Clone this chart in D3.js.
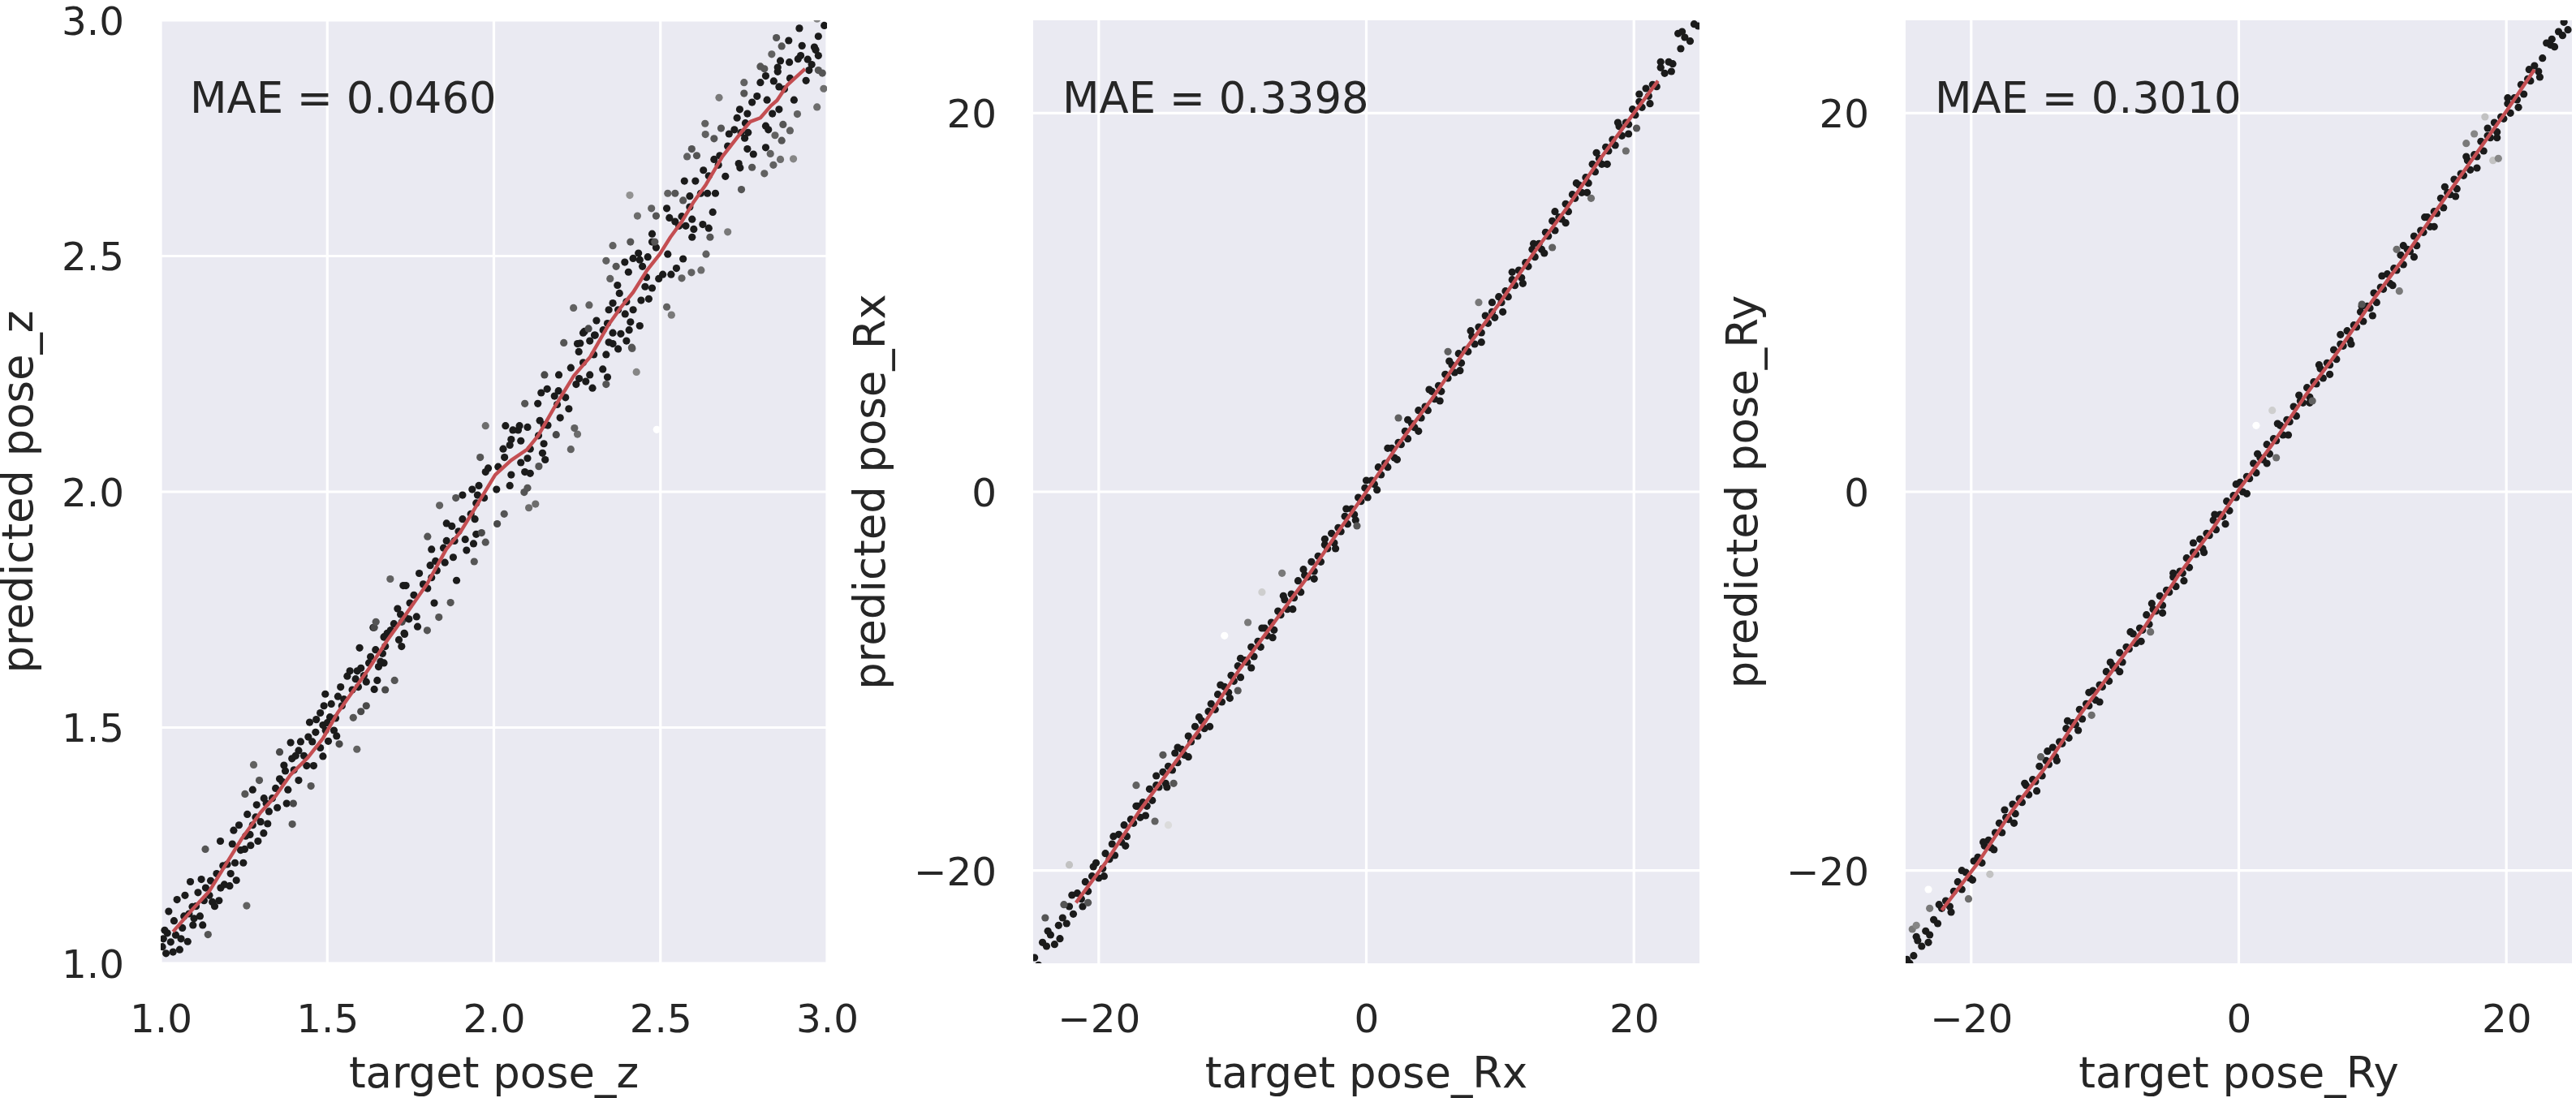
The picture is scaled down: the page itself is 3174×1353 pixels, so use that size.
<!DOCTYPE html>
<html>
<head>
<meta charset="utf-8">
<script src="https://cdn.jsdelivr.net/npm/d3@7"></script>
<style>
body { margin: 0; background: #ffffff; }
svg { display: block; font-family: 'DejaVu Sans', sans-serif; }
</style>
</head>
<body>
<svg id="board" width="3174" height="1353"></svg>
<script>

// [target, predicted] for the dark points
var poseZPoints = [
[1.016,1.021],[1.037,1.024],[1.008,1.052],[1.057,1.029],[1.02,1.064],[1.024,1.11],[1.049,1.135],[1.073,1.144],
[1.089,1.173],[1.097,1.081],[1.081,1.046],[1.061,1.052],[1.126,1.081],[1.106,1.121],[1.13,1.133],[1.146,1.144],
[1.122,1.178],[1.175,1.133],[1.162,1.121],[1.191,1.167],[1.187,1.207],[1.207,1.164],[1.227,1.176],[1.179,1.259],
[1.215,1.253],[1.219,1.282],[1.235,1.293],[1.252,1.242],[1.248,1.213],[1.223,1.213],[1.26,1.316],[1.276,1.293],
[1.292,1.259],[1.268,1.273],[1.288,1.336],[1.276,1.368],[1.317,1.339],[1.325,1.322],[1.321,1.296],[1.309,1.276],
[1.345,1.371],[1.357,1.391],[1.374,1.408],[1.382,1.368],[1.378,1.339],[1.39,1.468],[1.394,1.434],[1.414,1.451],
[1.414,1.388],[1.438,1.419],[1.459,1.419],[1.443,1.48],[1.447,1.511],[1.467,1.517],[1.479,1.457],[1.487,1.439],
[1.495,1.494],[1.503,1.471],[1.487,1.505],[1.479,1.531],[1.49,1.546],[1.494,1.571],[1.508,1.522],[1.528,1.482],
[1.52,1.494],[1.532,1.566],[1.544,1.546],[1.54,1.586],[1.56,1.609],[1.568,1.62],[1.585,1.603],[1.593,1.586],
[1.617,1.597],[1.601,1.626],[1.625,1.637],[1.597,1.669],[1.641,1.581],[1.65,1.6],[1.654,1.629],[1.67,1.637],
[1.666,1.657],[1.674,1.672],[1.67,1.692],[1.69,1.706],[1.715,1.686],[1.723,1.672],[1.731,1.7],[1.771,1.714],
[1.005,1.035],[1.012,1.07],[1.03,1.045],[1.045,1.06],[1.04,1.09],[1.065,1.075],[1.07,1.1],[1.085,1.105],
[1.095,1.12],[1.1,1.095],[1.112,1.15],[1.118,1.1],[1.135,1.16],[1.15,1.175],[1.155,1.13],[1.168,1.19],
[1.18,1.16],[1.2,1.21],[1.21,1.19],[1.24,1.24],[1.255,1.27],[1.27,1.25],[1.285,1.31],[1.3,1.3],
[1.31,1.35],[1.335,1.35],[1.35,1.33],[1.365,1.385],[1.37,1.42],[1.4,1.41],[1.405,1.44],[1.42,1.47],
[1.43,1.44],[1.455,1.47],[1.465,1.49],[1.5,1.51],[1.512,1.55],[1.525,1.52],[1.55,1.56],[1.575,1.58],
[1.59,1.62],[1.61,1.61],[1.63,1.65],[1.645,1.665],[1.66,1.64],[1.68,1.7],[1.7,1.72],[1.745,1.73],[1.72,1.74],
[1.638,1.712],[1.671,1.692],[1.691,1.706],[1.711,1.752],[1.732,1.698],[1.736,1.732],[1.748,1.764],[1.768,1.735],
[1.821,1.764],[1.76,1.781],[1.736,1.801],[1.728,1.801],[1.776,1.827],[1.788,1.804],[1.801,1.795],[1.813,1.818],
[1.809,1.844],[1.825,1.853],[1.829,1.833],[1.813,1.878],[1.849,1.881],[1.853,1.85],[1.858,1.896],[1.878,1.861],
[1.888,1.812],[1.882,1.896],[1.894,1.916],[1.914,1.899],[1.918,1.876],[1.939,1.89],[1.947,1.91],[1.858,1.933],
[1.874,1.927],[1.906,1.942],[1.931,1.953],[1.943,1.942],[1.947,1.976],[1.951,1.993],[1.935,2.005],[1.906,1.993],
[1.955,2.013],[1.971,1.987],[2.008,2.005],[2.052,2.036],[2.048,2.013],[2.013,2.053],[1.983,2.05],[1.975,2.042],
[2.028,2.091],[2.032,2.073],[2.048,2.099],[2.052,2.111],[2.073,2.131],[2.081,2.108],[2.081,2.062],[2.101,2.071],
[2.109,2.039],[2.093,2.042],[2.109,2.091],[2.101,2.137],[2.077,2.14],[2.035,2.14],[2.057,2.131],[2.134,2.119],
[2.15,2.102],[2.146,2.082],[2.154,2.068],[2.132,2.187],[2.138,2.151],[2.15,2.142],[2.162,2.141],[2.199,2.157],
[2.19,2.185],[2.182,2.203],[2.194,2.214],[2.215,2.2],[2.225,2.176],[2.142,2.21],[2.16,2.218],[2.195,2.248],
[2.231,2.263],[2.247,2.228],[2.256,2.24],[2.276,2.234],[2.296,2.22],[2.288,2.248],[2.268,2.274],[2.255,2.297],
[2.251,2.314],[2.3,2.291],[2.327,2.26],[2.341,2.243],[2.337,2.291],[2.288,2.32],[2.302,2.332],[2.268,2.337],
[2.357,2.314],[2.373,2.303],[2.381,2.335],[2.398,2.32],[2.406,2.343],[2.438,2.352],
[2.259,2.315],[2.272,2.34],[2.304,2.332],[2.308,2.363],[2.328,2.343],[2.345,2.317],[2.357,2.337],[2.341,2.357],
[2.345,2.386],[2.373,2.386],[2.394,2.377],[2.357,2.4],[2.377,2.421],[2.398,2.403],[2.418,2.386],[2.41,2.36],
[2.371,2.438],[2.404,2.466],[2.393,2.487],[2.418,2.495],[2.438,2.492],[2.446,2.478],[2.434,2.506],[2.458,2.455],
[2.454,2.435],[2.442,2.406],[2.465,2.409],[2.475,2.432],[2.462,2.498],[2.475,2.53],[2.487,2.518],[2.475,2.547],
[2.495,2.452],[2.507,2.461],[2.532,2.461],[2.548,2.474],[2.568,2.494],[2.522,2.504],[2.519,2.601],[2.527,2.581],
[2.544,2.573],[2.556,2.564],[2.564,2.584],[2.576,2.564],[2.595,2.578],[2.6,2.557],[2.595,2.54],[2.645,2.559],
[2.627,2.567],[2.657,2.593],[2.588,2.604],[2.572,2.659],[2.588,2.627],[2.605,2.659],[2.621,2.633],[2.641,2.633],
[2.665,2.633],[2.629,2.682],[2.645,2.67],[2.661,2.705],[2.678,2.713],[2.674,2.693],[2.695,2.669],[2.739,2.687],
[2.735,2.696],[2.779,2.716],[2.816,2.73],[2.761,2.727],[2.702,2.733],[2.706,2.759],[2.722,2.768],[2.73,2.793],
[2.742,2.762],[2.755,2.782],[2.763,2.762],[2.753,2.75],[2.738,2.811],[2.761,2.802],[2.775,2.826],[2.79,2.839],
[2.816,2.776],[2.824,2.768],[2.836,2.802],[2.856,2.811],[2.82,2.831],[2.8,2.868],[2.816,2.882],[2.84,2.871],
[2.852,2.891],[2.856,2.859],[2.872,2.854],[2.901,2.831],[2.889,2.877],[2.937,2.872],[2.946,2.894],[2.887,2.911],
[2.86,2.914],[2.852,2.9],[2.913,2.918],[2.921,2.925],[2.942,2.917],[2.954,2.906],[2.974,2.925],[2.962,2.943],
[2.925,2.946],[2.966,2.937],[2.885,2.957],[2.917,2.983],[2.974,2.966],[2.992,2.989]
];

// [target, predicted, shade] for the paler points (0 = black, 1 = white)
var poseZFaint = [
[1.142,1.061,.3],[1.134,1.242,.3],[1.258,1.122,.35],[1.253,1.359,.3],[1.279,1.421,.35],[1.296,1.388,.3],
[1.398,1.339,.25],[1.395,1.295,.3],[1.357,1.448,.25],[1.451,1.376,.3],[1.536,1.465,.25],[1.578,1.521,.3],
[1.601,1.534,.25],[1.617,1.546,.25],[1.589,1.454,.35],[1.674,1.58,.25],[1.702,1.6,.3],[1.641,1.712,.25],
[1.8,1.706,.3],[1.646,1.724,.3],[1.724,1.724,.25],[1.835,1.734,.3],[1.87,1.765,.3],[1.689,1.815,.35],
[1.801,1.905,.3],[1.837,1.971,.35],[1.941,1.852,.3],[1.963,1.913,.25],[1.975,1.893,.3],[1.886,1.987,.3],
[2.01,1.932,.25],[2.031,1.953,.3],[1.959,2.073,.3],[1.975,2.14,.4],[2.091,1.999,.3],[2.105,1.966,.4],
[2.125,1.974,.4],[2.101,2.008,.3],[2.135,2.054,.3],[2.093,2.187,.3],[2.187,2.121,.25],[2.231,2.09,.35],
[2.251,2.122,.4],[2.242,2.135,.35],[2.152,2.248,.25],[2.21,2.316,.3],[2.337,2.228,.3],[2.415,2.304,.35],
[2.428,2.254,.5],[2.489,2.132,1],
[2.284,2.346,.25],[2.239,2.39,.35],[2.286,2.396,.35],[2.414,2.306,.3],[2.349,2.452,.35],[2.367,2.478,.3],
[2.337,2.49,.35],[2.357,2.522,.35],[2.41,2.53,.3],[2.431,2.585,.4],[2.408,2.629,.55],[2.483,2.53,.3],
[2.473,2.601,.35],[2.487,2.585,.3],[2.519,2.392,.35],[2.533,2.375,.45],[2.564,2.453,.35],[2.593,2.465,.35],
[2.622,2.47,.4],[2.522,2.633,.35],[2.544,2.633,.3],[2.637,2.504,.35],[2.649,2.54,.3],[2.702,2.551,.45],
[2.568,2.618,.3],[2.743,2.641,.3],[2.775,2.688,.3],[2.812,2.675,.35],[2.839,2.693,.35],[2.86,2.705,.4],
[2.899,2.706,.5],[2.83,2.717,.35],[2.58,2.711,.35],[2.594,2.727,.3],[2.609,2.713,.3],[2.682,2.771,.3],
[2.661,2.749,.3],[2.635,2.758,.35],[2.634,2.781,.35],[2.676,2.836,.45],[2.751,2.845,.3],[2.751,2.868,.35],
[2.844,2.756,.35],[2.864,2.745,.3],[2.868,2.779,.3],[2.889,2.766,.35],[2.8,2.902,.3],[2.812,2.897,.3],
[2.834,2.928,.35],[2.911,2.801,.35],[2.97,2.816,.4],[2.99,2.855,.4],[2.974,2.894,.3],[2.986,2.888,.3],
[2.848,2.963,.3],[2.864,2.945,.3],[2.97,3.003,.5]
];

var poseZTrend = [
[1.037,1.067],[1.09,1.11],[1.146,1.153],[1.2,1.215],[1.244,1.265],[1.3,1.32],[1.345,1.355],[1.39,1.4],
[1.44,1.435],[1.487,1.477],[1.53,1.53],[1.58,1.58],[1.626,1.626],[1.68,1.685],[1.736,1.74],[1.8,1.805],
[1.857,1.878],[1.9,1.915],[1.938,1.959],[2.004,2.036],[2.052,2.067],[2.1,2.09],[2.133,2.119],[2.18,2.177],
[2.24,2.246],[2.289,2.286],[2.345,2.355],[2.38,2.39],[2.418,2.423],[2.46,2.47],[2.498,2.504],[2.53,2.54],
[2.564,2.573],[2.6,2.615],[2.637,2.652],[2.686,2.711],[2.742,2.762],[2.77,2.785],[2.8,2.793],[2.832,2.819],
[2.85,2.83],[2.88,2.862],[2.934,2.897]
];

var poseRxPoints = [
[-24.8,-24.6],[-24.5,-25.0],[-24.2,-23.8],[-23.9,-24.0],[-23.6,-23.4],[-23.3,-23.9],[-23.0,-22.9],[-22.7,-22.5],
[-22.4,-22.8],[-22.2,-21.9],[-21.9,-22.3],[-21.6,-21.2],[-21.3,-21.5],[-21.0,-20.6],[-20.8,-21.1],[-20.5,-20.3],
[-20.2,-19.6],[-20.0,-20.4],[-19.7,-19.9],[-19.5,-19.1],[-19.2,-19.4],[-19.0,-18.6],[-18.8,-19.2],[-18.5,-18.1],
[-18.3,-18.5],[-18.1,-17.6],[-17.9,-18.2],[-17.6,-17.3],[-17.4,-17.5],[-17.1,-16.6],[-16.9,-17.2],[-16.7,-16.4],
[-16.4,-16.6],[-16.2,-15.7],[-16.0,-16.3],[-15.7,-15.5],[-15.5,-15.6],[-15.2,-14.8],[-15.0,-15.4],[-14.8,-14.5],
[-14.5,-14.7],[-14.3,-13.8],[-14.1,-14.3],[-13.8,-13.6],[-13.6,-13.9],[-13.3,-12.9],[-13.1,-13.2],[-12.8,-12.4],
[-12.6,-12.9],[-12.3,-12.1],[-12.1,-12.5],[-11.8,-11.6],[-11.6,-11.2],[-11.3,-11.5],[-11.1,-10.7],[-10.8,-11.1],
[-10.6,-10.3],[-10.3,-10.6],[-10.1,-9.7],[-9.9,-10.0],[-9.6,-9.2],[-9.4,-9.8],[-9.1,-8.9],[-8.9,-9.0],
[-8.6,-8.2],[-8.4,-8.7],[-8.1,-7.9],[-7.9,-8.2],[-7.6,-7.2],[-7.4,-7.6],[-7.1,-6.9],[-6.9,-7.3],
[-6.6,-6.3],[-6.4,-6.5],[-6.1,-5.7],[-5.9,-6.2],[-5.6,-5.4],[-5.4,-5.6],[-5.1,-4.7],[-4.9,-5.3],
[-4.6,-4.4],[-4.4,-4.5],[-4.1,-3.7],[-3.9,-4.2],[-3.6,-3.4],[-3.4,-3.7],[-3.1,-2.8],[-2.9,-3.0],
[-2.6,-2.2],[-2.4,-2.7],[-2.1,-1.9],[-1.9,-2.1],[-1.6,-1.3],[-1.4,-1.7],[-1.1,-0.9],[-0.9,-1.2],
[-0.6,-0.3],[-0.4,-0.5],[-0.1,0.2],[0.1,-0.3],[0.4,0.6],[0.6,0.4],[0.9,1.3],[1.1,0.9],
[1.4,1.5],[1.6,1.3],[1.9,2.3],[2.1,1.8],[2.4,2.6],[2.6,2.5],[2.9,3.2],[3.1,2.8],
[3.4,3.6],[3.6,3.4],[3.9,4.3],[4.1,3.9],[4.4,4.5],[4.6,4.3],[4.9,5.3],[5.1,4.9],
[5.4,5.6],[5.6,5.3],[5.9,6.2],[6.1,6.0],[6.4,6.7],[6.6,6.3],[6.9,7.3],[7.1,6.8],
[7.4,7.5],[7.6,7.4],[7.9,8.2],[8.1,7.8],[8.4,8.7],[8.6,8.4],[8.9,9.3],[9.1,8.9],
[9.4,9.5],[9.6,9.2],[9.9,10.3],[10.1,10.0],[10.4,10.6],[10.6,10.3],[10.9,11.2],[11.1,10.9],
[11.4,11.7],[11.6,11.3],[11.9,12.1],[12.1,11.9],[12.4,12.8],[12.6,12.4],[12.9,13.1],[13.1,12.8],
[13.4,13.7],[13.6,13.5],[13.9,14.3],[14.1,13.8],[14.4,14.5],[14.6,14.4],[14.9,15.2],[15.1,14.8],
[15.4,15.7],[15.6,15.5],[15.9,16.2],[16.1,15.8],[16.4,16.6],[16.6,16.3],[16.9,17.3],[17.1,16.9],
[17.4,17.6],[17.6,17.3],[17.9,18.2],[18.1,18.0],[18.4,18.6],[18.6,18.3],[18.9,19.3],[19.1,18.8],
[19.4,19.5],[19.6,19.4],[19.9,20.2],[20.1,19.9],[20.4,20.6],[20.6,20.3],[20.9,21.3],[21.1,20.9],
[21.4,21.5],[21.7,21.4],[22.0,22.4],[22.3,22.1],[22.6,22.7],[22.9,22.6],[23.3,24.2],[23.5,23.4],
[23.8,24.0],[24.2,23.8],[24.5,24.7],[24.8,24.6]
];

// the outer edge of the Rx band
var poseRxWide = [
[-23.8,-23.2],[-22.9,-23.6],[-22.0,-21.3],[-21.2,-21.9],[-20.4,-19.8],[-19.6,-20.3],[-18.9,-18.2],[-18.0,-18.7],
[-17.2,-16.6],[-16.5,-17.1],[-15.7,-15.0],[-14.9,-15.6],[-14.1,-13.5],[-13.3,-14.0],[-12.5,-11.9],[-11.7,-12.4],
[-10.9,-10.2],[-10.2,-10.9],[-9.4,-8.8],[-8.6,-9.3],[-7.8,-7.2],[-7.0,-7.7],[-6.2,-5.5],[-5.5,-6.2],
[-4.7,-4.1],[-3.9,-4.6],[-3.1,-2.5],[-2.3,-3.0],[-1.5,-0.9],[-0.8,-1.5],[0.0,0.6],[0.8,0.1],
[1.6,2.3],[2.3,1.7],[3.1,3.8],[3.9,3.2],[4.7,5.4],[5.5,4.8],[6.2,6.9],[7.0,6.4],
[7.8,8.5],[8.6,7.9],[9.4,10.0],[10.2,9.5],[10.9,11.6],[11.7,11.0],[12.5,13.1],[13.3,12.6],
[14.1,14.8],[14.9,14.2],[15.7,16.3],[16.5,15.8],[17.2,17.9],[18.0,17.3],[18.8,19.5],[19.6,18.9],
[20.4,21.0],[21.2,20.5],[22.0,22.7],[22.8,22.2],[23.6,24.3]
];

var poseRxFaint = [
[-22.2,-19.7,.75],[-24.0,-22.5,.3],[-22.6,-21.8,.3],[-20.8,-21.7,.3],[-17.2,-15.5,.35],[-15.8,-17.4,.35],
[-14.8,-17.6,.85],[-15.2,-13.9,.3],[-14.4,-15.4,.3],[-10.6,-7.6,1],[-8.85,-6.9,.45],[-7.8,-5.3,.8],
[-6.3,-4.3,.45],[-9.6,-10.5,.3],[-0.7,-1.8,.3],[2.4,3.9,.35],[6.1,7.4,.35],[8.4,10.0,.45],
[13.9,12.9,.35],[16.8,15.5,.4],[19.4,18.0,.4],[20.2,19.2,.3]
];

var poseRxTrend = [
[-21.7,-21.7],[-19.5,-19.6],[-17,-16.9],[-14.5,-14.5],[-12,-12.1],[-9.5,-9.4],[-7,-7.0],[-4.5,-4.6],
[-2,-2.0],[0,0.0],[2.5,2.6],[5,5.0],[7.5,7.6],[10,10.0],[12.5,12.6],[15,15.0],[17.5,17.6],[20,20.0],[21.8,21.7]
];

var poseRyPoints = [
[-24.8,-24.7],[-24.6,-24.9],[-24.3,-24.5],[-24.0,-23.7],[-23.7,-24.0],[-23.4,-23.2],[-23.1,-23.4],[-22.8,-22.6],
[-22.5,-22.8],[-22.2,-22.0],[-21.9,-21.6],[-21.6,-21.9],[-21.3,-21.1],[-21.0,-20.6],[-20.7,-21.0],[-20.4,-20.1],
[-20.1,-20.4],[-19.8,-19.5],[-19.5,-19.3],[-19.2,-19.6],[-19.0,-18.7],[-18.7,-18.4],[-18.5,-18.8],[-18.2,-18.0],
[-17.9,-17.5],[-17.7,-18.0],[-17.4,-17.2],[-17.2,-17.3],[-16.9,-16.5],[-16.7,-17.0],[-16.4,-16.2],[-16.2,-16.4],
[-15.9,-15.5],[-15.7,-16.0],[-15.4,-15.2],[-15.2,-15.3],[-14.9,-14.5],[-14.7,-15.0],[-14.4,-14.2],[-14.2,-14.4],
[-13.9,-13.5],[-13.7,-14.0],[-13.4,-13.2],[-13.2,-13.3],[-12.9,-12.5],[-12.7,-13.0],[-12.4,-12.2],[-12.2,-12.3],
[-11.9,-11.5],[-11.7,-12.0],[-11.4,-11.2],[-11.2,-11.3],[-10.9,-10.5],[-10.7,-11.0],[-10.4,-10.2],[-10.2,-10.3],
[-9.9,-9.5],[-9.7,-10.0],[-9.4,-9.2],[-9.2,-9.3],[-8.9,-8.5],[-8.7,-9.0],[-8.4,-8.2],[-8.2,-8.3],
[-7.9,-7.5],[-7.7,-8.0],[-7.4,-7.2],[-7.2,-7.3],[-6.9,-6.5],[-6.7,-7.0],[-6.4,-6.2],[-6.2,-6.3],
[-5.9,-5.5],[-5.7,-6.0],[-5.4,-5.2],[-5.2,-5.3],[-4.9,-4.5],[-4.7,-5.0],[-4.4,-4.2],[-4.2,-4.3],
[-3.9,-3.5],[-3.7,-4.0],[-3.4,-3.2],[-3.2,-3.3],[-2.9,-2.5],[-2.7,-3.0],[-2.4,-2.2],[-2.2,-2.3],
[-1.9,-1.5],[-1.7,-2.0],[-1.4,-1.2],[-1.2,-1.3],[-0.9,-0.5],[-0.7,-1.0],[-0.4,-0.2],[-0.2,-0.3],
[0.1,0.5],[0.3,0.0],[0.6,0.8],[0.8,0.7],[1.1,1.5],[1.3,1.0],[1.6,1.8],[1.8,1.7],
[2.1,2.5],[2.3,2.0],[2.6,2.8],[2.8,2.7],[3.1,3.5],[3.3,3.0],[3.6,3.8],[3.8,3.7],
[4.1,4.5],[4.3,4.0],[4.6,4.8],[4.8,4.7],[5.1,5.5],[5.3,5.0],[5.6,5.8],[5.8,5.7],
[6.1,6.5],[6.3,6.0],[6.6,6.8],[6.8,6.7],[7.1,7.5],[7.3,7.0],[7.6,7.8],[7.8,7.7],
[8.1,8.5],[8.3,8.0],[8.6,8.8],[8.8,8.7],[9.1,9.5],[9.3,9.0],[9.6,9.8],[9.8,9.7],
[10.1,10.5],[10.3,10.0],[10.6,10.8],[10.8,10.7],[11.1,11.5],[11.3,11.0],[11.6,11.8],[11.8,11.7],
[12.1,12.5],[12.3,12.0],[12.6,12.8],[12.8,12.7],[13.1,13.5],[13.3,13.0],[13.6,13.8],[13.8,13.7],
[14.1,14.5],[14.3,14.0],[14.6,14.8],[14.8,14.7],[15.1,15.5],[15.3,15.0],[15.6,15.8],[15.8,15.7],
[16.1,16.5],[16.3,16.0],[16.6,16.8],[16.8,16.7],[17.1,17.5],[17.3,17.0],[17.6,17.8],[17.8,17.7],
[18.1,18.5],[18.3,18.0],[18.6,18.8],[18.8,18.7],[19.1,19.5],[19.3,19.0],[19.6,19.8],[19.8,19.7],
[20.1,20.5],[20.3,20.0],[20.6,20.8],[20.8,20.7],[21.1,21.5],[21.3,21.0],[21.6,21.8],[21.8,21.7],
[22.1,22.5],[22.4,22.2],[22.7,22.9],[23.0,23.7],[23.3,23.6],[23.6,23.5],[23.9,24.3],[24.2,24.1],[24.6,24.4]
];

// the outer edge of the Ry band
var poseRyWide = [
[-24.1,-23.5],[-23.2,-23.8],[-22.4,-21.8],[-21.5,-22.2],[-20.7,-20.0],[-19.9,-20.5],[-19.1,-18.5],[-18.3,-18.9],
[-17.5,-16.8],[-16.8,-17.5],[-16.0,-15.4],[-15.1,-15.8],[-14.3,-13.7],[-13.6,-14.2],[-12.8,-12.1],[-12.0,-12.6],
[-11.2,-10.6],[-10.4,-11.1],[-9.6,-9.0],[-8.9,-9.5],[-8.1,-7.4],[-7.3,-7.9],[-6.5,-5.9],[-5.7,-6.4],
[-4.9,-4.3],[-4.1,-4.7],[-3.4,-2.7],[-2.6,-3.2],[-1.8,-1.2],[-1.0,-1.7],[-0.2,0.4],[0.6,-0.1],
[1.4,2.0],[2.1,1.5],[2.9,3.6],[3.7,3.0],[4.5,5.1],[5.3,4.7],[6.0,6.7],[6.8,6.2],
[7.6,8.3],[8.4,7.8],[9.2,9.8],[10.0,9.3],[10.7,11.4],[11.5,10.9],[12.3,13.0],[13.1,12.4],
[13.9,14.5],[14.6,14.0],[15.4,16.1],[16.2,15.6],[17.0,17.7],[17.8,17.1],[18.6,19.2],[19.3,18.7],
[20.1,20.8],[20.9,20.3],[21.7,22.3],[22.5,21.9],[23.4,23.9],[24.3,24.8]
];

var poseRyFaint = [
[1.3,3.5,1],[2.5,4.3,.8],[2.8,1.8,.4],[12.0,10.6,.45],[11.8,12.8,.4],[18.4,19.8,.75],[17.0,18.4,.45],
[17.6,18.9,.5],[19.0,17.5,.75],[19.4,17.6,.5],[-23.2,-21.0,1],[-18.6,-20.2,.75],[-20.2,-21.5,.4],
[-23.1,-22.0,.45],[-24.4,-23.1,.45],[-24.1,-22.9,.5],[-11.0,-11.8,.4],[-6.6,-7.4,.4],[-14.8,-14.0,.35],
[5.5,4.8,.35],[9.2,9.9,.3]
];

var poseRyTrend = [
[-22.2,-22.1],[-19.5,-19.6],[-17,-16.9],[-14.5,-14.6],[-12,-11.9],[-9.5,-9.5],[-7,-7.1],[-4.5,-4.4],
[-2,-2.0],[0,0.1],[2.5,2.5],[5,5.1],[7.5,7.5],[10,10.1],[12.5,12.5],[15,15.1],[17.5,17.6],[20,20.1],[22.1,22.3]
];

var poseZTicks = [1.0, 1.5, 2.0, 2.5, 3.0];
var rotationTicks = [-20, 0, 20];
var poseZDomain = [1, 3];
var rotationDomain = [-24.9, 24.9];
var targetNames = ['pose_z', 'pose_Rx', 'pose_Ry'];
var maeValues = [0.0460, 0.3398, 0.3010];

var Chart = {
  svg: d3.select('#board'),
  lefts: [198, 1273, 2348],
  top: 25,
  width: 821,
  height: 1162,
  ink: '#262626',
  tickFont: 48.4,
  labelFont: 52.8,
  darkShade: 0.06
};

Chart.shade = d3.scaleLinear().domain([0, 1]).range(['#0c0c0c', '#ffffff']);

Chart.drawPanel = function drawPanel(panel, i) {
  var w = this.width, h = this.height;
  var g = this.svg.append('g')
    .attr('transform', 'translate(' + this.lefts[i] + ',' + this.top + ')');

  var x = d3.scaleLinear().domain(panel.domain).range([0, w]);
  var y = d3.scaleLinear().domain(panel.domain).range([h, 0]);

  var clipId = 'clip-' + i;
  g.append('clipPath').attr('id', clipId)
    .append('rect').attr('width', w).attr('height', h);

  g.append('rect').attr('width', w).attr('height', h).attr('fill', '#eaeaf2');

  var grid = g.append('g').attr('clip-path', 'url(#' + clipId + ')')
    .attr('stroke', '#ffffff').attr('stroke-width', 3.2);
  grid.selectAll('line.gx').data(panel.ticks).enter().append('line')
    .attr('class', 'gx')
    .attr('x1', function(d) { return x(d); }).attr('x2', function(d) { return x(d); })
    .attr('y1', 0).attr('y2', h);
  grid.selectAll('line.gy').data(panel.ticks).enter().append('line')
    .attr('class', 'gy')
    .attr('y1', function(d) { return y(d); }).attr('y2', function(d) { return y(d); })
    .attr('x1', 0).attr('x2', w);

  var marks = g.append('g').attr('clip-path', 'url(#' + clipId + ')');
  var dark = this.shade(this.darkShade);
  marks.selectAll('circle.dark').data(panel.points).enter().append('circle')
    .attr('class', 'dark')
    .attr('cx', function(d) { return x(d[0]); })
    .attr('cy', function(d) { return y(d[1]); })
    .attr('r', 4.6)
    .attr('fill', dark);
  var shade = this.shade;
  marks.selectAll('circle.faint').data(panel.faint).enter().append('circle')
    .attr('class', 'faint')
    .attr('cx', function(d) { return x(d[0]); })
    .attr('cy', function(d) { return y(d[1]); })
    .attr('r', 4.6)
    .attr('fill', function(d) { return shade(d[2]); });

  var line = d3.line()
    .x(function(d) { return x(d[0]); })
    .y(function(d) { return y(d[1]); });
  marks.append('path').datum(panel.trend)
    .attr('d', line)
    .attr('fill', 'none')
    .attr('stroke', '#c44e52')
    .attr('stroke-width', 4.4)
    .attr('stroke-linejoin', 'round');

  var yAxis = g.append('g')
    .call(d3.axisLeft(y).tickValues(panel.ticks).tickFormat(panel.format)
      .tickSize(0).tickPadding(45));
  var xAxis = g.append('g').attr('transform', 'translate(0,' + h + ')')
    .call(d3.axisBottom(x).tickValues(panel.ticks).tickFormat(panel.format)
      .tickSize(0).tickPadding(50.6));
  [yAxis, xAxis].forEach(function(ax) {
    ax.select('.domain').remove();
    ax.selectAll('text')
      .attr('font-family', 'DejaVu Sans, sans-serif')
      .attr('font-size', Chart.tickFont)
      .attr('fill', Chart.ink);
  });
  yAxis.selectAll('text').attr('dy', '0.36em');

  g.append('text')
    .attr('x', 36).attr('y', 114)
    .attr('font-size', this.labelFont)
    .attr('fill', this.ink)
    .text('MAE = ' + d3.format('.4f')(panel.mae));

  g.append('text')
    .attr('x', w / 2).attr('y', h + 153)
    .attr('text-anchor', 'middle')
    .attr('font-size', this.labelFont)
    .attr('fill', this.ink)
    .text('target ' + panel.name);

  // y label sits just left of the widest tick label
  var tickBox = yAxis.node().getBBox();
  var labelX = tickBox.x - 36;
  g.append('text')
    .attr('transform', 'translate(' + labelX + ',' + (h / 2) + ') rotate(-90)')
    .attr('text-anchor', 'middle')
    .attr('font-size', this.labelFont)
    .attr('fill', this.ink)
    .text('predicted ' + panel.name);
};

var panels = [
  {name: targetNames[0], points: poseZPoints, faint: poseZFaint, trend: poseZTrend,
    domain: poseZDomain, ticks: poseZTicks, format: d3.format('.1f'), mae: maeValues[0]},
  {name: targetNames[1], points: poseRxPoints.concat(poseRxWide), faint: poseRxFaint, trend: poseRxTrend,
    domain: rotationDomain, ticks: rotationTicks, format: d3.format('d'), mae: maeValues[1]},
  {name: targetNames[2], points: poseRyPoints.concat(poseRyWide), faint: poseRyFaint, trend: poseRyTrend,
    domain: rotationDomain, ticks: rotationTicks, format: d3.format('d'), mae: maeValues[2]}
];

panels.forEach(function(p, i) { Chart.drawPanel(p, i); });
</script>
</body>
</html>
